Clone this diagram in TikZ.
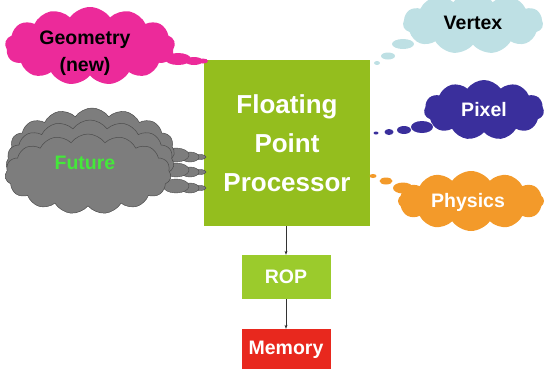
\documentclass[tikz,border=0pt]{standalone}
\usepackage{fontspec}
\setmainfont{Liberation Sans}
\usetikzlibrary{shapes.symbols,shapes.geometric,arrows.meta}
\definecolor{procgreen}{RGB}{148,190,30}
\definecolor{ropgreen}{RGB}{155,203,44}
\definecolor{memred}{RGB}{232,40,30}
\definecolor{geomag}{RGB}{236,42,154}
\definecolor{vertblue}{RGB}{190,224,228}
\definecolor{pixblue}{RGB}{58,47,156}
\definecolor{physorange}{RGB}{243,154,42}
\definecolor{futgray}{RGB}{125,125,125}
\definecolor{futgreen}{RGB}{68,232,58}
\tikzset{
  lbl/.style={font=\bfseries\fontsize{19.5}{24}\selectfont},
  blk/.style={draw=none, inner sep=0pt, text=white, lbl},
  thought/.style={cloud, cloud puffs=#1, cloud puff arc=110, cloud ignores aspect,
    inner sep=0pt, lbl},
  thought/.default=11,
  bub/.style={ellipse, inner sep=0pt, draw=none},
  grayc/.style={thought=15, fill=futgray, draw=black!70, line width=0.5pt},
  graybub/.style={ellipse, inner sep=0pt, fill=futgray, draw=black!70, line width=0.4pt},
  link/.style={draw=black!80, line width=0.5pt, -{Stealth[length=4pt,width=3pt]}}
}
\begin{document}
\begin{tikzpicture}[x=1pt,y=-1pt]
\useasboundingbox (0,0) rectangle (545,368);

% processing blocks
\node[blk, fill=procgreen, minimum width=166pt, minimum height=166pt, align=center,
      font=\bfseries\fontsize{26}{39}\selectfont] (fpp) at (287,143)
      {Floating\\Point\\Processor};
\node[blk, fill=ropgreen, minimum width=89pt, minimum height=44pt] (rop) at (286,277) {ROP};
\node[blk, fill=memred, minimum width=89pt, minimum height=42pt] (mem) at (286,350) {Memory};
\draw[link] (fpp.south -| rop.north) -- (rop.north);
\draw[link] (rop.south) -- (mem.north);

% Geometry thought bubble
\node[bub, fill=geomag, minimum width=26pt, minimum height=12pt] (g1) at (178,59) {};
\node[bub, fill=geomag, minimum width=18pt, minimum height=8pt] (g2) at (194,61) {};
\node[bub, fill=geomag, minimum width=10pt, minimum height=5pt] (g3) at (203,61) {};
\node[thought=13, fill=geomag, minimum width=170pt, minimum height=78pt] (geo) at (90,46) {};
\node[lbl, align=center] (geot) at (85,53) {Geometry\\[3pt](new)};

% Vertex thought bubble
\node[bub, fill=vertblue, minimum width=22pt, minimum height=10pt] (v1) at (403,44) {};
\node[bub, fill=vertblue, minimum width=14pt, minimum height=7pt] (v2) at (388,56) {};
\node[bub, fill=vertblue, minimum width=6pt, minimum height=4pt] (v3) at (377,63) {};
\node[thought=11, fill=vertblue, minimum width=140pt, minimum height=62pt] (vtx) at (473,23) {Vertex};

% Pixel thought bubble
\node[bub, fill=pixblue, minimum width=22pt, minimum height=12pt] (p1) at (422,127) {};
\node[bub, fill=pixblue, minimum width=14pt, minimum height=8pt] (p2) at (404,130) {};
\node[bub, fill=pixblue, minimum width=9pt, minimum height=6pt] (p3) at (389,132) {};
\node[bub, fill=pixblue, minimum width=5pt, minimum height=3pt] (p4) at (376,133) {};
\node[thought=11, fill=pixblue, text=white, minimum width=120pt, minimum height=60pt] (pix) at (484,110) {Pixel};

% Physics thought bubble
\node[bub, fill=physorange, minimum width=7pt, minimum height=4pt] (h1) at (373,176) {};
\node[bub, fill=physorange, minimum width=13pt, minimum height=7pt] (h2) at (386,181) {};
\node[bub, fill=physorange, minimum width=20pt, minimum height=11pt] (h3) at (403,188) {};
\node[thought=12, fill=physorange, text=white, minimum width=146pt, minimum height=60pt] (phy) at (471,201) {};
\node[lbl, text=white] (phyt) at (468,202) {Physics};

% Future: stacked grey clouds with three trailing streams
\foreach \y/\n in {157/a,172/b,188/c}{
  \node[graybub, minimum width=12pt, minimum height=5pt] (f\n3) at (200,\y) {};
  \node[graybub, minimum width=18pt, minimum height=10pt] (f\n2) at (190,\y) {};
  \node[graybub, minimum width=26pt, minimum height=14pt] (f\n1) at (176,\y-2) {};
}
\node[grayc, minimum width=165pt, minimum height=84pt] (fut1) at (92,150) {};
\node[grayc, minimum width=168pt, minimum height=84pt] (fut2) at (90,162) {};
\node[grayc, minimum width=166pt, minimum height=80pt] (fut3) at (88,174) {};
\node[lbl, text=futgreen] (futt) at (85,163) {Future};
\end{tikzpicture}
\end{document}
